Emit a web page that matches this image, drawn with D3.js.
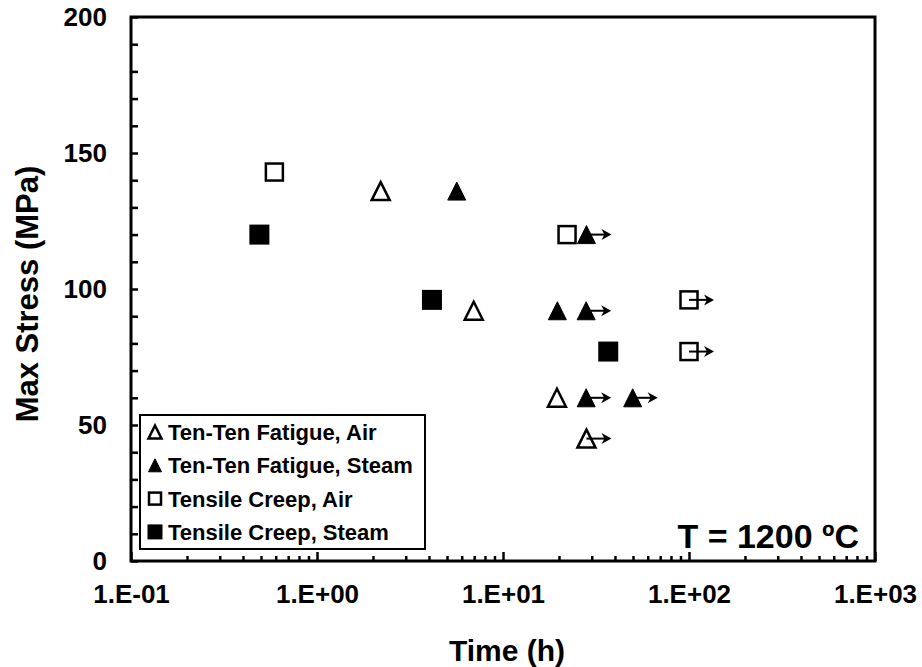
<!DOCTYPE html>
<html>
<head>
<meta charset="utf-8">
<script src="https://cdn.jsdelivr.net/npm/d3@7"></script>
<style>
  body { margin: 0; background: #fff; }
  text { font-family: "Liberation Sans", Arial, sans-serif; font-weight: bold; fill: #000; }
</style>
</head>
<body>
<svg id="chart" width="922" height="667"></svg>
<script>
"use strict";

// [time (h), max stress (MPa), run-out]
const fatigueAir = [[2.2, 136, false], [6.96, 92, false], [19.5, 60, false], [28.1, 45, true]];
const fatigueSteam = [[5.64, 136, false], [28.1, 120, true], [19.6, 92, false], [28, 92, true], [28, 60, true], [49.8, 60, true]];
const creepAir = [[0.59, 143, false], [22.1, 120, false], [100, 96, true], [100, 77, true]];
const creepSteam = [[0.49, 120, false], [4.15, 96, false], [36.8, 77, false]];

const seriesNames = ["Ten-Ten Fatigue, Air", "Ten-Ten Fatigue, Steam", "Tensile Creep, Air", "Tensile Creep, Steam"];
const xMajorTicks = [0.1, 1, 10, 100, 1000];
const yTicks = d3.range(0, 201, 10);

const svg = d3.select("#chart");
const plotLeft = 131, plotRight = 875, plotTop = 17, plotBottom = 561;

const xScale = d3.scaleLog().domain([0.1, 1000]).range([plotLeft, plotRight]);
const yScale = d3.scaleLinear().domain([0, 200]).range([plotBottom, plotTop]);

const series = [
    {name: seriesNames[0], data: fatigueAir, shape: "tri", filled: false},
    {name: seriesNames[1], data: fatigueSteam, shape: "tri", filled: true},
    {name: seriesNames[2], data: creepAir, shape: "sq", filled: false},
    {name: seriesNames[3], data: creepSteam, shape: "sq", filled: true},
];

function expLabel(v) {
    const e = Math.round(Math.log10(v));
    const s = e < 0 ? "-" : "+";
    return `1.E${s}${String(Math.abs(e)).padStart(2, "0")}`;
}

// minor ticks of the log axis
const xMinor = [];
for (let d = -1; d < 3; d++) {
    for (let k = 2; k <= 9; k++) xMinor.push(k * Math.pow(10, d));
}

const gx = svg.append("g").attr("transform", `translate(0,${plotBottom})`);
gx.append("g").call(d3.axisBottom(xScale).tickValues(xMinor).tickSize(-5).tickFormat(""));
gx.append("g").call(d3.axisBottom(xScale).tickValues(xMajorTicks).tickSize(-9).tickPadding(24).tickFormat(expLabel));
gx.selectAll(".domain").remove();
gx.selectAll("line").attr("stroke", "#000").attr("stroke-width", 2.5);
gx.selectAll("text").attr("font-size", 26).attr("fill", "#000");

const gy = svg.append("g").attr("transform", `translate(${plotLeft},0)`);
gy.call(d3.axisLeft(yScale).tickValues(yTicks).tickSize(-7).tickPadding(24)
    .tickFormat(d => d % 50 === 0 ? d : ""));
gy.select(".domain").remove();
gy.selectAll("line").attr("stroke", "#000").attr("stroke-width", 2.5);
gy.selectAll("text").attr("font-size", 26).attr("fill", "#000");

// plot frame
svg.append("rect")
    .attr("x", plotLeft).attr("y", plotTop)
    .attr("width", plotRight - plotLeft).attr("height", plotBottom - plotTop)
    .attr("fill", "none").attr("stroke", "#000").attr("stroke-width", 3);

// axis titles
svg.append("text")
    .attr("x", 507).attr("y", 661)
    .attr("text-anchor", "middle").attr("font-size", 30)
    .text("Time (h)");
svg.append("text")
    .attr("transform", `translate(38,294) rotate(-90)`)
    .attr("text-anchor", "middle").attr("font-size", 31)
    .text("Max Stress (MPa)");

function drawMarker(g, shape, filled, cx, cy, size) {
    if (shape === "tri") {
        const h = size * 1.0, w = size;
        g.append("path")
            .attr("d", `M${cx},${cy - h / 2} L${cx + w / 2},${cy + h / 2} L${cx - w / 2},${cy + h / 2} Z`)
            .attr("fill", filled ? "#000" : "#fff")
            .attr("stroke", "#000").attr("stroke-width", filled ? 1 : 2.5)
            .attr("stroke-linejoin", "miter");
    } else {
        const s = filled ? size + 2 : size - 1;
        g.append("rect")
            .attr("x", cx - s / 2).attr("y", cy - s / 2)
            .attr("width", s).attr("height", s)
            .attr("fill", filled ? "#000" : "#fff")
            .attr("stroke", "#000").attr("stroke-width", filled ? 0 : 2.5);
    }
}

function drawArrow(g, cx, cy) {
    const tip = cx + 25;
    g.append("line")
        .attr("x1", cx).attr("y1", cy).attr("x2", tip - 4).attr("y2", cy)
        .attr("stroke", "#000").attr("stroke-width", 2);
    g.append("path")
        .attr("d", `M${tip},${cy} L${tip - 10},${cy - 5.5} L${tip - 7},${cy} L${tip - 10},${cy + 5.5} Z`)
        .attr("fill", "#000");
}

const gPts = svg.append("g");
for (const s of series) {
    for (const [t, v, runout] of s.data) {
        const cx = xScale(t), cy = yScale(v);
        drawMarker(gPts, s.shape, s.filled, cx, cy, 18);
        if (runout) drawArrow(gPts, cx, cy);
    }
}

// legend
const legend = svg.append("g");
legend.append("rect")
    .attr("x", 140).attr("y", 415).attr("width", 285).attr("height", 134)
    .attr("fill", "#fff").attr("stroke", "#000").attr("stroke-width", 2);
series.forEach((s, i) => {
    const cy = 432 + i * 33.3;
    drawMarker(legend, s.shape, s.filled, 155, cy, 13);
    legend.append("text")
        .attr("x", 168).attr("y", cy).attr("dy", "0.36em")
        .attr("font-size", 22)
        .text(s.name);
});

svg.append("text")
    .attr("x", 859).attr("y", 548)
    .attr("text-anchor", "end").attr("font-size", 34)
    .text("T = 1200 ºC");
</script>
</body>
</html>
